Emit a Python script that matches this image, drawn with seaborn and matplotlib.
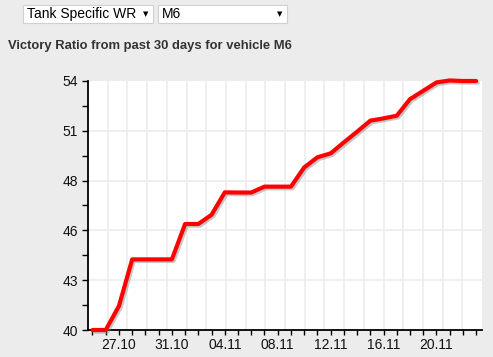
import matplotlib
matplotlib.use("Agg")
import matplotlib.pyplot as plt
import matplotlib.patheffects as pe
from matplotlib.patches import Rectangle
from matplotlib.ticker import FixedLocator, FixedFormatter
import numpy as np
import pandas as pd
import seaborn as sns

# ---- data ----
dates = pd.date_range("2012-10-25", "2012-11-23", freq="D")
win_ratio = [40.0, 40.0, 41.35, 43.97, 43.97, 43.97, 43.97, 45.96, 45.96, 46.48,
             47.74, 47.73, 47.73, 48.06, 48.06, 48.06, 49.14, 49.71, 49.93, 50.55,
             51.15, 51.77, 51.90, 52.05, 52.98, 53.45, 53.92, 54.03, 54.0, 54.0]
x_tick_labels = ["27.10", "31.10", "04.11", "08.11", "12.11", "16.11", "20.11"]
y_tick_values = [40.0, 42.8, 45.6, 48.4, 51.2, 54.0]
y_tick_labels = ["40", "43", "46", "48", "51", "54"]
title = "Victory Ratio from past 30 days for vehicle M6"
dropdown1 = "Tank Specific WR"
dropdown2 = "M6"

df = pd.DataFrame({"day": np.arange(len(dates)), "wr": win_ratio})

sns.set_theme(style="white")
plt.rcParams["font.family"] = ["Liberation Sans", "DejaVu Sans"]

W, H = 493, 357
fig = plt.figure(figsize=(W / 100, H / 100), dpi=100, facecolor="#ececec")
ax = fig.add_axes([88 / W, 1 - 330 / H, (482 - 88) / W, (330 - 81) / H])
ax.set_facecolor("white")

sns.lineplot(data=df, x="day", y="wr", ax=ax, color="#ff0000", linewidth=3.0,
             clip_on=False, zorder=5,
             path_effects=[pe.SimpleLineShadow(offset=(1.2, -1.2), shadow_color="#888888", alpha=0.45),
                           pe.Normal()])

xmin, xmax = -0.34, 29.44
ax.set_xlim(xmin, xmax)
ax.set_ylim(40, 54)

# vertical grid (20 equal cells)
for gx in np.linspace(xmin, xmax, 21)[1:-1]:
    ax.axvline(gx, color="#ececec", lw=1.2, zorder=0)
for gy in y_tick_values[1:-1]:
    ax.axhline(gy, color="#ececec", lw=1.2, zorder=0)

# x ticks
label_pos = [dates.get_loc(pd.Timestamp(f"2012-{l[3:5]}-{l[0:2]}")) for l in x_tick_labels]
ax.xaxis.set_major_locator(FixedLocator(label_pos))
ax.xaxis.set_major_formatter(FixedFormatter(x_tick_labels))
ax.xaxis.set_minor_locator(FixedLocator(list(range(len(dates)))))
# y ticks
ax.yaxis.set_major_locator(FixedLocator(y_tick_values))
ax.yaxis.set_major_formatter(FixedFormatter(y_tick_labels))
mids = [(a + b) / 2 for a, b in zip(y_tick_values[:-1], y_tick_values[1:])]
ax.yaxis.set_minor_locator(FixedLocator(mids))

ax.tick_params(axis="both", which="both", direction="out", color="black", width=1.0,
               labelsize=10, labelcolor="#111111", bottom=True, left=True)
ax.tick_params(axis="x", which="major", length=3.5, pad=2.5)
ax.tick_params(axis="x", which="minor", length=3.5)
ax.tick_params(axis="y", which="both", length=4, pad=3)

for s in ["top", "right"]:
    ax.spines[s].set_visible(False)
for s in ["left", "bottom"]:
    ax.spines[s].set_color("black")
    ax.spines[s].set_linewidth(1.3)
ax.set_xlabel("")
ax.set_ylabel("")

# title
fig.text(8 / W, 1 - 46.5 / H, title, fontsize=9.4, fontweight="bold", color="#333333",
         ha="left", va="center")

# dropdowns
for x0, x1, txt in [(22.7, 153.3, dropdown1), (158.3, 287.3, dropdown2)]:
    fig.patches.append(Rectangle((x0 / W, 1 - 22.7 / H), (x1 - x0) / W, 17.7 / H,
                                 transform=fig.transFigure, facecolor="white",
                                 edgecolor="#d0d0d0", linewidth=0.8))
    fig.text((x0 + 4) / W, 1 - 14 / H, txt, fontsize=10, color="black", ha="left", va="center")
    fig.text((x1 - 7.5) / W, 1 - 14.5 / H, "▼", fontsize=5, color="black",
             ha="center", va="center", family="DejaVu Sans")

fig.savefig("out.png", dpi=100, facecolor=fig.get_facecolor())
